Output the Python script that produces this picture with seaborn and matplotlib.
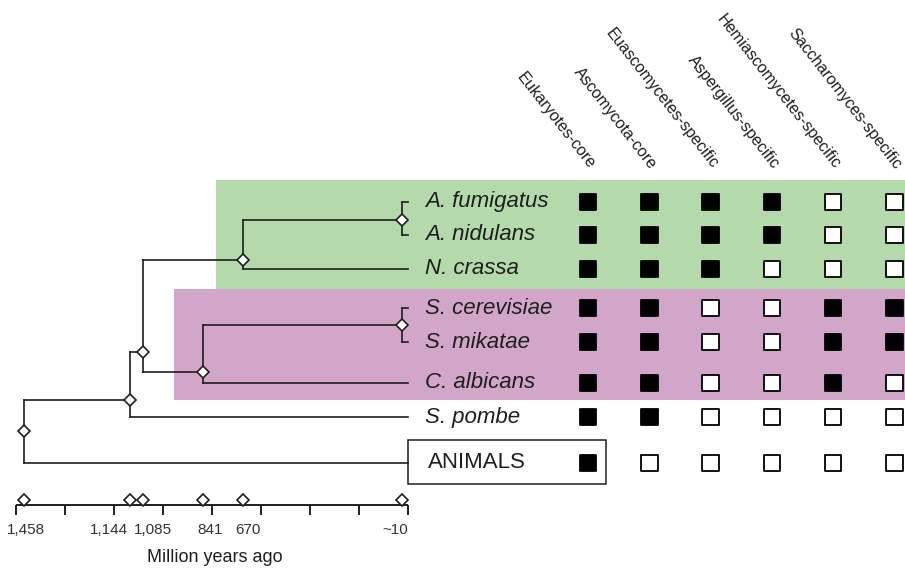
import numpy as np
import pandas as pd
import matplotlib
matplotlib.use("Agg")
import matplotlib.pyplot as plt
from matplotlib.patches import Rectangle
import seaborn as sns

# ---------------- data ----------------
categories = ["Eukaryotes-core", "Ascomycota-core", "Euascomycetes-specific",
              "Aspergillus-specific", "Hemiascomycetes-specific",
              "Saccharomyces-specific"]
species = ["A. fumigatus", "A. nidulans", "N. crassa", "S. cerevisiae",
           "S. mikatae", "C. albicans", "S. pombe", "ANIMALS"]
presence = [
    [1, 1, 1, 1, 0, 0],   # A. fumigatus
    [1, 1, 1, 1, 0, 0],   # A. nidulans
    [1, 1, 1, 0, 0, 0],   # N. crassa
    [1, 1, 0, 0, 1, 1],   # S. cerevisiae
    [1, 1, 0, 0, 1, 1],   # S. mikatae
    [1, 1, 0, 0, 1, 0],   # C. albicans
    [1, 1, 0, 0, 0, 0],   # S. pombe
    [1, 0, 0, 0, 0, 0],   # ANIMALS
]

# internal nodes of the tree: divergence time (million years ago) and children
node_names = ["aspergillus", "saccharomyces", "pezizomycotina",
              "saccharomycotina", "ascomycota", "fungi", "root"]
node_ages = [10, 10, 670, 841, 1085, 1144, 1458]
node_children = [("A. fumigatus", "A. nidulans"),
                 ("S. cerevisiae", "S. mikatae"),
                 ("aspergillus", "N. crassa"),
                 ("saccharomyces", "C. albicans"),
                 ("pezizomycotina", "saccharomycotina"),
                 ("ascomycota", "S. pombe"),
                 ("fungi", "ANIMALS")]

time_ticks = [1458, 1144, 1085, 841, 670, 10]
time_labels = ["1,458", "1,144", "1,085", "841", "670", "~10"]

# ---------------- layout ----------------
W, H = 905, 570
row_y = [202, 235, 269, 308, 342, 383, 417, 463]
col_x0, col_dx = 588, 61.3
label_x = 425
# vertical placement of each internal node between its two children
node_frac = [0.55, 0.5, 0.82, 0.81, 0.82, 0.74, 0.49]
# horizontal offsets (px) of the time labels relative to their diamonds
time_label_dx = [2, -21, 10.5, 7, 5, -6.5]

# compressed (not to scale) time axis: age -> horizontal position
scale_ages = np.array([1550, 1458, 1144, 1085, 841, 670, 10, 0, -1900], float)
scale_px = np.array([0, 24, 130, 142.5, 203, 243, 401.5, 408, 905], float)


def age_to_px(a):
    return np.interp(-np.asarray(a, float), -scale_ages, scale_px)


# scale functions must increase with the data value, so work with -pixel
def fwd(a):
    return -age_to_px(a)


def inv(v):
    return -np.interp(-np.asarray(v, float), scale_px, -scale_ages)


sns.set_style("white")
plt.rcParams["font.family"] = ["Liberation Sans", "DejaVu Sans"]

INK = "#1e1e1e"
GREEN = "#b4d9ab"
PURPLE = "#d2a6c8"

fig = plt.figure(figsize=(W / 100, H / 100), dpi=100)
ax = fig.add_axes([0, 0, 1, 1])

# clade shading
mid = (row_y[2] + row_y[3]) / 2
g_left = float(age_to_px(670)) - 27
p_left = float(age_to_px(841)) - 29
ax.add_patch(Rectangle((g_left, row_y[0] - 22), W - g_left, mid - (row_y[0] - 22),
                       facecolor=GREEN, edgecolor="none", zorder=0))
ax.add_patch(Rectangle((p_left, mid), W - p_left, row_y[5] + 17 - mid,
                       facecolor=PURPLE, edgecolor="none", zorder=0))

# ANIMALS outgroup box
ax.add_patch(Rectangle((408, row_y[7] - 23), col_x0 + 18 - 408, 44,
                       facecolor="white", edgecolor=INK, lw=1.1, zorder=2))

# species labels
for name, y in zip(species, row_y):
    if name == "ANIMALS":
        ax.text(label_x + 3, y, name, fontsize=16, ha="left", va="center",
                color=INK, zorder=3)
    else:
        ax.text(label_x, y, name, fontsize=16, style="italic", ha="left",
                va="center", color=INK, zorder=3)

# presence / absence matrix
recs = []
for i, name in enumerate(species):
    for j, cat in enumerate(categories):
        recs.append({"x": col_x0 + j * col_dx, "y": row_y[i],
                     "state": "present" if presence[i][j] else "absent"})
df = pd.DataFrame(recs)
sns.scatterplot(data=df, x="x", y="y", hue="state",
                palette={"present": "black", "absent": "white"},
                marker="s", s=141, edgecolor="black", linewidth=1.3,
                legend=False, ax=ax, zorder=4)
ax.set_xlim(0, W)
ax.set_ylim(H, 0)
ax.axis("off")

# column headers
for j, cat in enumerate(categories):
    ax.text(col_x0 + j * col_dx + 4, 167, cat, fontsize=11.6, rotation=-52,
            rotation_mode="anchor", ha="right", va="center", color=INK)

# time axis baseline and ticks
ax.plot([16, 408], [505, 505], color=INK, lw=1.4, solid_capstyle="butt")
for tx in np.linspace(16, 408, 9):
    ax.plot([tx, tx], [505, 515], color=INK, lw=1.4, solid_capstyle="butt")
ax.text(215, 557, "Million years ago", fontsize=13, ha="center", va="center",
        color=INK)

# ---------------- tree ----------------
tax = fig.add_axes([0, 0, 1, 1])
tax.set_xscale("function", functions=(fwd, inv))
tax.set_xlim(scale_ages[0], scale_ages[-1])
tax.set_ylim(H, 0)
tax.patch.set_alpha(0)
tax.axis("off")

age_of = {s: 0.0 for s in species}
y_of = {s: y for s, y in zip(species, row_y)}
for name, age, (c1, c2), f in zip(node_names, node_ages, node_children, node_frac):
    y1, y2 = y_of[c1], y_of[c2]
    age_of[name] = age
    y_of[name] = y1 + f * (y2 - y1)
    tax.plot([age, age], [y1, y2], color=INK, lw=1.2, solid_capstyle="projecting")
    for c in (c1, c2):
        tax.plot([age, age_of[c]], [y_of[c], y_of[c]], color=INK, lw=1.2,
                 solid_capstyle="projecting")

tax.plot(node_ages, [y_of[n] for n in node_names], linestyle="none",
         marker="D", ms=6.3, mfc="white", mec=INK, mew=1.2, zorder=5)

# node times on the time axis
tax.plot(time_ticks, [500] * len(time_ticks), linestyle="none", marker="D",
         ms=6.3, mfc="white", mec=INK, mew=1.2, zorder=5)
for t, lab, dx in zip(time_ticks, time_labels, time_label_dx):
    tax.annotate(lab, xy=(t, 530), xytext=(dx * 0.72, 0),
                 textcoords="offset points", ha="center", va="center",
                 fontsize=11, color="#333333")

fig.savefig("out.png", dpi=100)
